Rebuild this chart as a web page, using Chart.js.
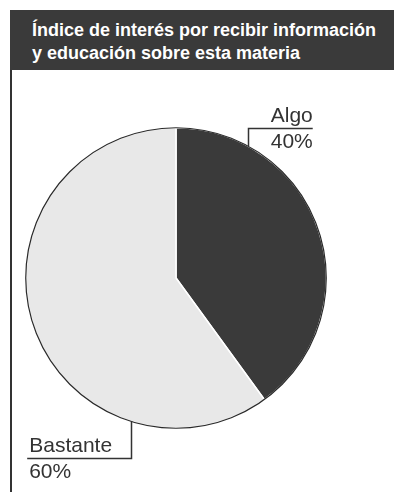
<!DOCTYPE html>
<html>
<head>
<meta charset="utf-8">
<script src="https://cdn.jsdelivr.net/npm/chart.js@4"></script>
<style>
  html,body{margin:0;padding:0;background:#fff;}
  #wrap{position:relative;width:394px;height:492px;overflow:hidden;}
  #head{position:absolute;left:10px;top:10px;width:384px;height:60px;background:#3a3a3a;color:#fff;
        font-family:"Liberation Sans",Arial,sans-serif;font-weight:bold;font-size:18px;line-height:23px;
        box-sizing:border-box;padding:9px 0 0 22px;white-space:nowrap;}
  #vline{position:absolute;left:10px;top:70px;width:2px;height:422px;background:#333;}
  canvas{position:absolute;left:0;top:0;}
</style>
</head>
<body>
<div id="wrap">
  <div id="head">Índice de interés por recibir información<br>y educación sobre esta materia</div>
  <div id="vline"></div>
  <canvas id="c" width="394" height="492"></canvas>
</div>
<script>
const categories = ["Algo", "Bastante"];
const values = [40, 60];
const percentLabels = ["40%", "60%"];
const sliceColors = ["#3a3a3a", "#e8e8e8"];

const labelStyle = {
  0: {frac: 0.198, rise: 18, horiz: 65, dir: 1},
  1: {frac: 0.247, rise: 37, horiz: 104, dir: -1}
};

const labelPlugin = {
  id: 'leaderLabels',
  afterDatasetsDraw(chart) {
    const ctx = chart.ctx;
    const meta = chart.getDatasetMeta(0);
    const a0 = meta.data[0];
    ctx.save();
    ctx.beginPath();
    ctx.arc(a0.x, a0.y, a0.outerRadius, 0, Math.PI * 2);
    ctx.strokeStyle = '#2a2a2a';
    ctx.lineWidth = 1.2;
    ctx.stroke();
    ctx.restore();

    meta.data.forEach((arc, i) => {
      const st = labelStyle[i];
      const ang = arc.startAngle + (arc.endAngle - arc.startAngle) * st.frac;
      const px = arc.x + Math.cos(ang) * arc.outerRadius;
      const py = arc.y + Math.sin(ang) * arc.outerRadius;
      const upward = Math.sin(ang) < 0;
      const ly = upward ? py - st.rise : py + st.rise;
      const ex = px + st.dir * st.horiz;
      ctx.save();
      ctx.strokeStyle = '#333';
      ctx.lineWidth = 1.5;
      ctx.beginPath();
      ctx.moveTo(Math.round(px) + 0.5, py);
      ctx.lineTo(Math.round(px) + 0.5, Math.round(ly) + 0.5);
      ctx.lineTo(ex, Math.round(ly) + 0.5);
      ctx.stroke();
      ctx.fillStyle = '#333';
      ctx.font = '21px "Liberation Sans", Arial, sans-serif';
      ctx.textBaseline = 'alphabetic';
      if (st.dir > 0) {
        ctx.textAlign = 'center';
        const cx = ex - 21;
        ctx.fillText(categories[i], cx, ly - 6);
        ctx.fillText(percentLabels[i], cx, ly + 20);
      } else {
        ctx.textAlign = 'left';
        const lx = ex + 2;
        ctx.fillText(categories[i], lx, ly - 6);
        ctx.fillText(percentLabels[i], lx, ly + 20);
      }
      ctx.restore();
    });
  }
};

new Chart(document.getElementById('c'), {
  type: 'pie',
  data: {
    labels: categories,
    datasets: [{
      data: values,
      backgroundColor: sliceColors,
      borderColor: '#ffffff',
      borderWidth: 1.5
    }]
  },
  options: {
    responsive: false,
    animation: false,
    layout: {padding: {left: 25, right: 67, top: 127, bottom: 63}},
    plugins: {legend: {display: false}, tooltip: {enabled: false}, title: {display: false}}
  },
  plugins: [labelPlugin]
});
</script>
</body>
</html>
